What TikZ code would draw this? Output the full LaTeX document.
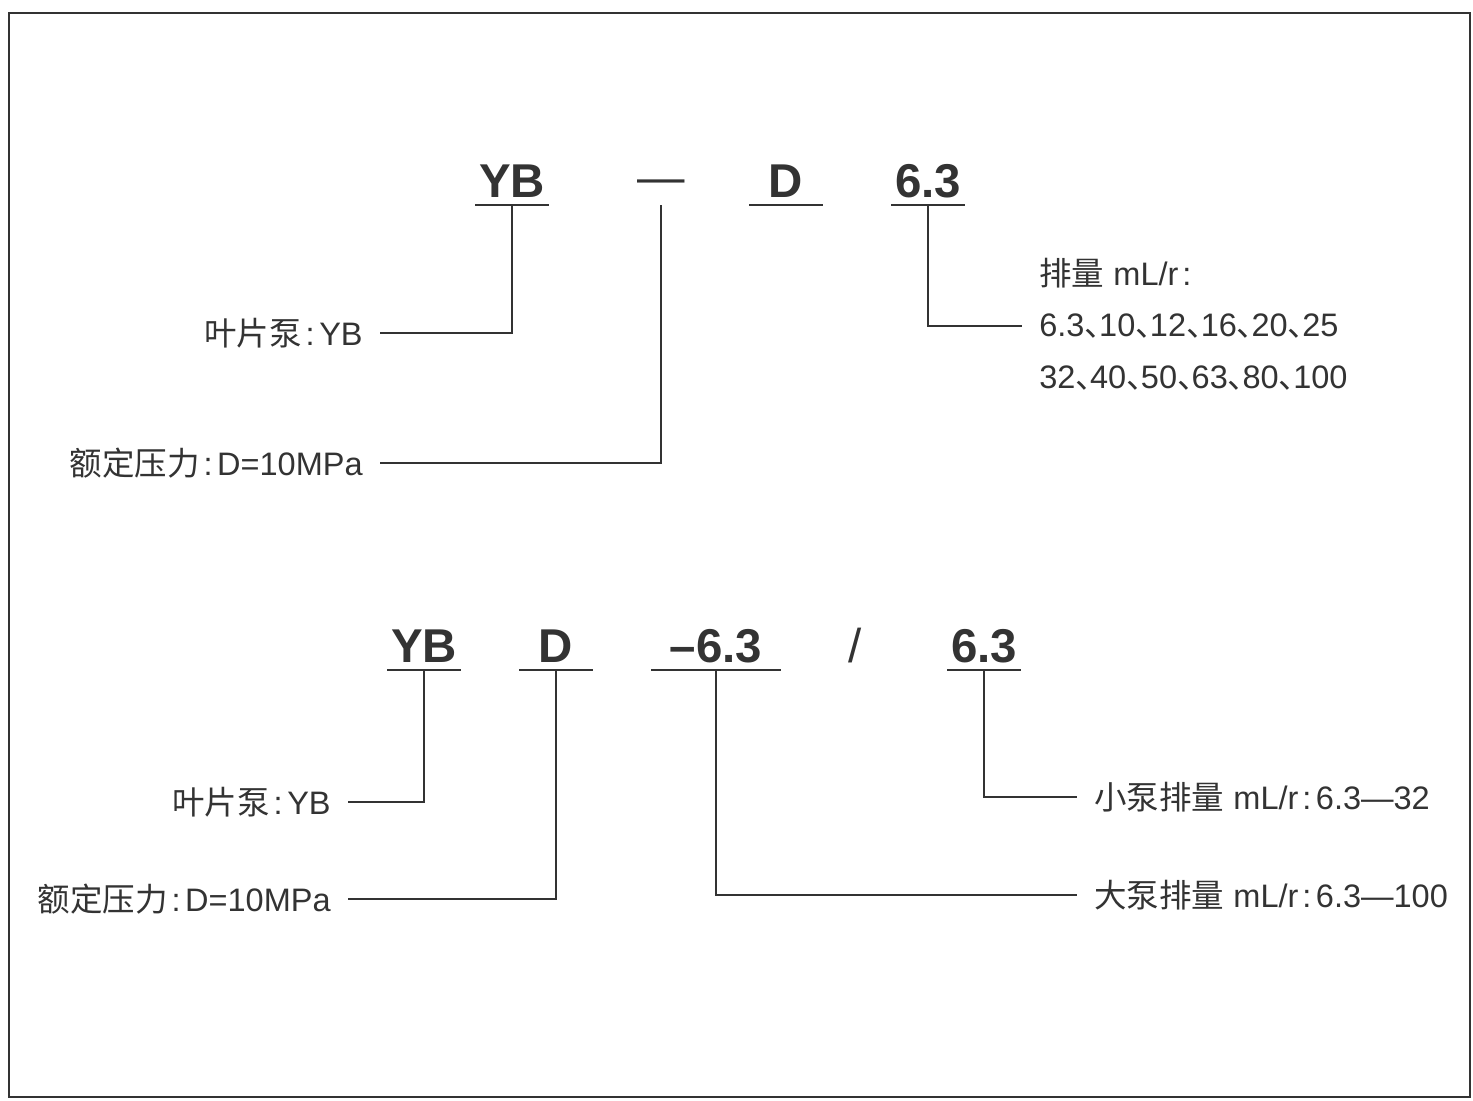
\documentclass[tikz,border=0pt]{standalone}
\usepackage{fontspec}
\setmainfont{Liberation Sans}
\newfontfamily\cjk{Noto Sans CJK SC}
\usepackage{xcolor}
\definecolor{ink}{HTML}{333333}
% narrow enumeration comma
\newcommand{\dn}{\makebox[0.45em][l]{\cjk 、}}
\newcommand{\cl}{\kern0.12em:\kern0.14em}
\tikzset{
  code/.style={font=\fontsize{27}{30}\selectfont\bfseries,text=ink,anchor=base,
    inner xsep=0pt,inner ysep=1.6mm,text depth=0pt,minimum width=14.6mm},
  lbl/.style={font=\fontsize{18.5}{21}\selectfont,text=ink,inner xsep=3.4mm,inner ysep=0pt},
  wire/.style={draw=ink,line width=0.3mm},
  uline/.style={draw=ink,line width=0.4mm}}

\begin{document}
\begin{tikzpicture}[x=0.2mm,y=-0.2mm]
  \useasboundingbox (0,0) rectangle (1473,1100);
  \draw[ink,line width=0.4mm] (9,13) rectangle (1470,1097);

  % upper code: YB - D 6.3
  \node[code] (yb1) at (512,197) {YB};
  \node[code,font=\fontsize{27}{30}\selectfont] (dash1) at (661,194) {—};
  \node[code] (d1) at (786,197) {D};
  \node[code] (six1) at (928,197) {6.3};
  \foreach \n in {yb1,d1,six1}{\draw[uline] (\n.south west) -- (\n.south east);}

  \node[lbl,anchor=east] (pump1) at (380,333) {{\cjk 叶片泵}\cl YB};
  \node[lbl,anchor=east] (press1) at (380,463) {{\cjk 额定压力}\cl D=10MPa};
  \node[lbl,anchor=west] (disp1a) at (1022,273) {{\cjk 排量} mL/r\cl};
  \node[lbl,anchor=west] (disp1b) at (1022,326) {6.3\dn10\dn12\dn16\dn20\dn25};
  \node[lbl,anchor=west] (disp1c) at (1022,378) {32\dn40\dn50\dn63\dn80\dn100};

  \draw[wire] (yb1.south) |- (pump1.east);
  \draw[wire] ([yshift=-0.6mm]dash1.south) |- (press1.east);
  \draw[wire] (six1.south) |- (disp1b.west);

  % lower code: YB D -6.3 / 6.3
  \node[code] (yb2) at (424,662) {YB};
  \node[code] (d2) at (556,662) {D};
  \node[code,minimum width=25.8mm] (big2) at (716,662) {–6.3};
  \node[code,font=\fontsize{27}{30}\selectfont] (sl2) at (855,662) {/};
  \node[code] (six2) at (984,662) {6.3};
  \foreach \n in {yb2,d2,big2,six2}{\draw[uline] (\n.south west) -- (\n.south east);}

  \node[lbl,anchor=east] (pump2) at (348,802) {{\cjk 叶片泵}\cl YB};
  \node[lbl,anchor=east] (press2) at (348,899) {{\cjk 额定压力}\cl D=10MPa};
  \node[lbl,anchor=west] (small2l) at (1077,797) {{\cjk 小泵排量} mL/r\cl 6.3—32};
  \node[lbl,anchor=west] (big2l) at (1077,895) {{\cjk 大泵排量} mL/r\cl 6.3—100};

  \draw[wire] (yb2.south) |- (pump2.east);
  \draw[wire] (d2.south) |- (press2.east);
  \draw[wire] (big2.south) |- (big2l.west);
  \draw[wire] (six2.south) |- (small2l.west);
\end{tikzpicture}
\end{document}
